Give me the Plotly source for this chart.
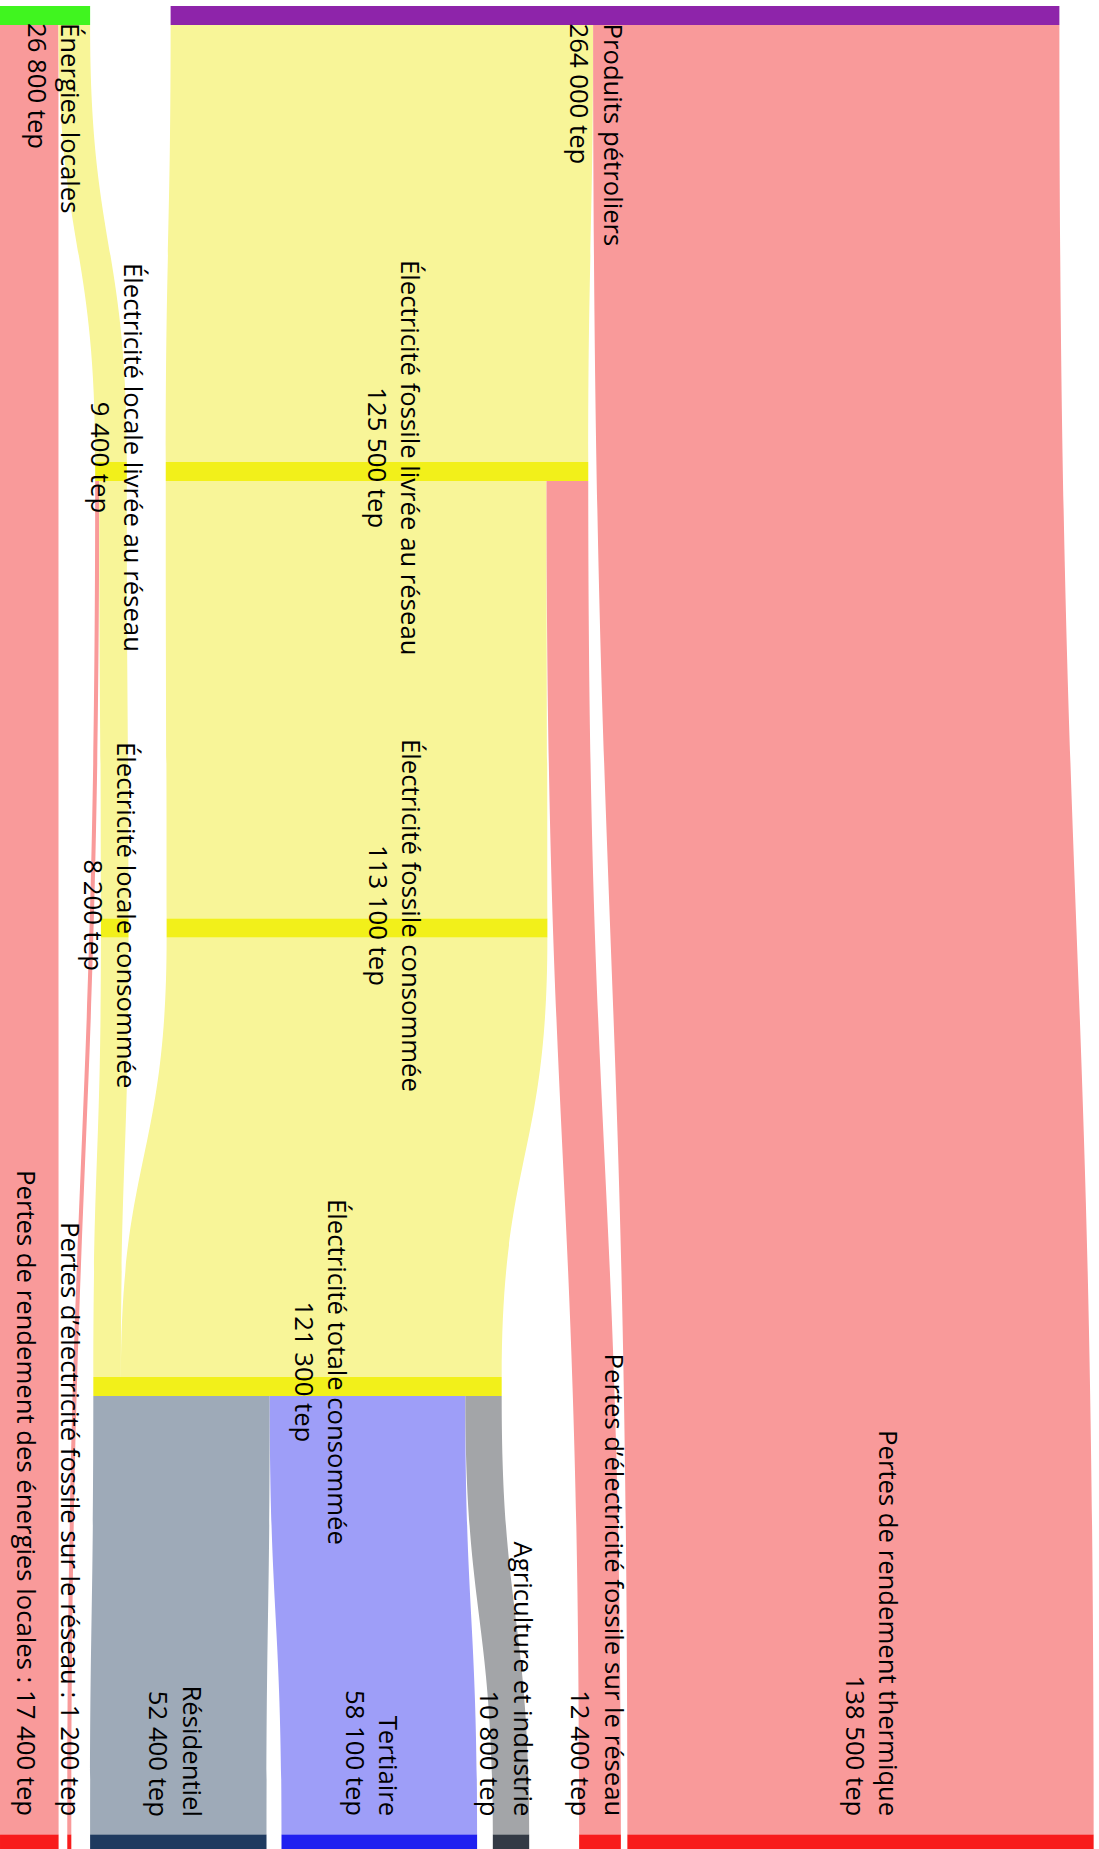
import plotly.graph_objects as go

# ---- data ----
node_names = [
    "Énergies locales",
    "Produits pétroliers",
    "Électricité locale livrée au réseau",
    "Électricité fossile livrée au réseau",
    "Électricité locale consommée",
    "Électricité fossile consommée",
    "Électricité totale consommée",
    "Résidentiel",
    "Tertiaire",
    "Agriculture et industrie",
    "Pertes de rendement des énergies locales",
    "Pertes d’électricité fossile sur le réseau",
    "Pertes d’électricité fossile sur le réseau",
    "Pertes de rendement thermique",
]
node_values = [26800, 264000, 9400, 125500, 8200, 113100, 121300,
               52400, 58100, 10800, 17400, 1200, 12400, 138500]
inline_label = [False] * 10 + [True, True, False, False]
node_level = [0, 0, 1, 1, 2, 2, 3, 4, 4, 4, 4, 4, 4, 4]

link_source = [0, 0, 1, 1, 2, 2, 3, 3, 4, 5, 6, 6, 6]
link_target = [10, 2, 3, 13, 11, 4, 5, 12, 6, 6, 7, 8, 9]
link_value = [17400, 9400, 125500, 138500, 1200, 8200, 113100, 12400,
              8200, 113100, 52400, 58100, 10800]

# ---- styles / layout hints (pixels) ----
W, H = 1099, 1849
node_colors = ["#40f51f", "#8e24aa", "#f2f01a", "#f2f01a", "#f2f01a", "#f2f01a",
               "#f2f01a", "#1f3a5f", "#2020f0", "#333a45",
               "#f81c1c", "#f81c1c", "#f81c1c", "#f81c1c"]
PINK, YEL = "#f99a9a", "#f8f598"
link_colors = [PINK, YEL, YEL, PINK, PINK, YEL, YEL, PINK, YEL, YEL,
               "#9eaab8", "#9e9ef8", "#a3a5a8"]
level_px = [15.5, 471.5, 928, 1386.5, 1844]         # vertical node centres
cross_px = [45, 615, 111, 377, 114.7, 357, 297.5,   # horizontal node centres
            178.3, 379.3, 511, 29.3, 69.3, 600, 860.5]
label_x_px = [54, 597, 117, 394, 110, 395, 321, 176, 372, 507, 27, 71, 598, 872]
label_y_px = {0: 21, 1: 457, 2: 915, 3: 1372, 4: 1818}
label_anchor = {0: ("top", "left"), 1: ("middle", "center"), 2: ("middle", "center"),
                3: ("middle", "center"), 4: ("bottom", "right")}


def fmt(v):
    return f"{v:,}".replace(",", " ") + " tep"


labels = [f"{n} : {fmt(v)}" if inl else f"{n}<br>{fmt(v)}"
          for n, v, inl in zip(node_names, node_values, inline_label)]

# plotly scales forced vertical-sankey positions by (width, height) of the domain
node_x = [level_px[l] / W for l in node_level]
node_y = [c / H for c in cross_px]

fig = go.Figure(go.Sankey(
    orientation="v",
    arrangement="fixed",
    node=dict(
        label=[""] * len(labels),
        customdata=[l.replace("<br>", " ") for l in labels],
        hovertemplate="%{customdata}<extra></extra>",
        color=node_colors,
        x=node_x,
        y=node_y,
        pad=20,
        thickness=19,
        line=dict(width=0),
    ),
    link=dict(
        source=link_source,
        target=link_target,
        value=link_value,
        color=link_colors,
    ),
))

for i, lab in enumerate(labels):
    lvl = node_level[i]
    yanc, align = label_anchor[lvl]
    fig.add_annotation(
        x=label_x_px[i] / W, y=1 - label_y_px[lvl] / H,
        xref="paper", yref="paper",
        text=lab, textangle=90, showarrow=False,
        xanchor="center", yanchor=yanc, align=align,
        font=dict(family="Open Sans", size=25.7, color="black"),
    )

fig.update_layout(
    width=W,
    height=H,
    margin=dict(l=0, r=0, t=0, b=0),
    paper_bgcolor="white",
    font=dict(family="Open Sans"),
)

fig.write_html("out.html", config={"displayModeBar": False},
               post_script="document.body.style.margin='0';")
